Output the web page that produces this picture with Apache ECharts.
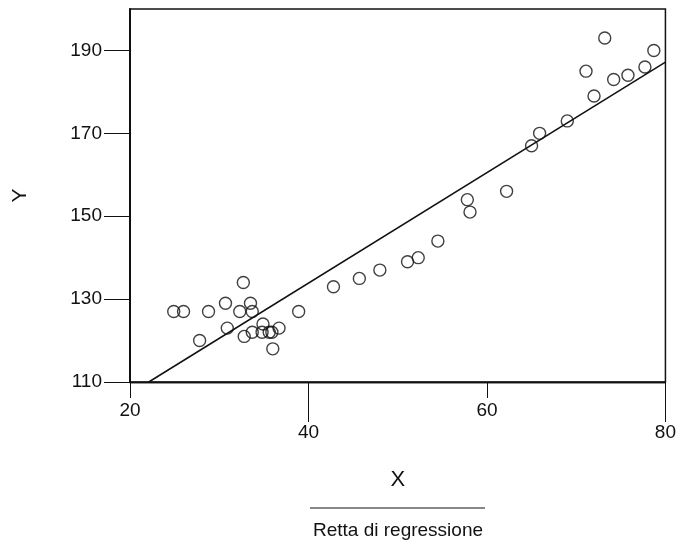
<!DOCTYPE html>
<html>
<head>
<meta charset="utf-8">
<script src="https://cdn.jsdelivr.net/npm/echarts@6/dist/echarts.min.js"></script>
<style>
  html, body { margin: 0; padding: 0; background: #fff; }
  #chart { width: 679px; height: 545px; }
</style>
</head>
<body>
<div id="chart"></div>
<script>
// dati osservati (X, Y)
const xValues = [
  24.9, 26.0, 28.8, 27.8, 30.7, 30.9, 32.7, 32.3, 33.5, 33.7,
  32.8, 33.7, 34.9, 34.8, 35.6, 35.9, 36.7, 36.0, 38.9,
  42.8, 45.7, 48.0, 51.1, 52.3, 54.5, 57.8, 58.1, 62.2,
  65.0, 65.9, 69.0, 72.0, 71.1, 73.2, 74.2, 75.8, 77.7, 78.7
];
const yValues = [
  127, 127, 127, 120, 129, 123, 134, 127, 129, 127,
  121, 122, 124, 122, 122, 122, 123, 118, 127,
  133, 135, 137, 139, 140, 144, 154, 151, 156,
  167, 170, 173, 179, 185, 193, 183, 184, 186, 190
];
// estremi della retta di regressione
const lineX = [22.1, 80];
const lineY = [110, 187.2];

const yTicks = [110, 130, 150, 170, 190];
const xTicksShort = [20, 60];
const xTicksLong = [40, 80];

const font = "'Liberation Sans', Arial, sans-serif";
const ink = "#111";

const chart = echarts.init(document.getElementById("chart"));

const xBase = {
  type: "value",
  min: 20,
  max: 80,
  position: "bottom",
  splitLine: { show: false },
  axisLine: { lineStyle: { color: ink, width: 1.3 } },
};

chart.setOption({
  animation: false,
  grid: {
    left: 130,
    right: 13,
    top: 9,
    bottom: 163,
    show: true,
    borderColor: ink,
    borderWidth: 1.5,
  },
  xAxis: [
    {
      ...xBase,
      name: "X",
      nameLocation: "middle",
      nameGap: 87,
      nameTextStyle: { fontFamily: font, fontSize: 22, color: ink },
      axisTick: { length: 16, customValues: xTicksShort, lineStyle: { color: ink } },
      axisLabel: { margin: 19, customValues: xTicksShort, fontFamily: font, fontSize: 19, color: ink },
    },
    {
      ...xBase,
      axisTick: { length: 40, customValues: xTicksLong, lineStyle: { color: ink } },
      axisLabel: { margin: 41, customValues: xTicksLong, fontFamily: font, fontSize: 19, color: ink },
    },
  ],
  yAxis: {
    type: "value",
    min: 110,
    max: 200,
    name: "Y",
    nameLocation: "middle",
    nameRotate: 90,
    nameGap: 99,
    nameTextStyle: { fontFamily: font, fontSize: 21, color: ink },
    splitLine: { show: false },
    axisLine: { show: true, lineStyle: { color: ink, width: 2 } },
    axisTick: { length: 26, customValues: yTicks, lineStyle: { color: ink } },
    axisLabel: { margin: 28, customValues: yTicks, fontFamily: font, fontSize: 19, color: ink },
  },
  graphic: [
    {
      type: "line",
      shape: { x1: 310, y1: 508, x2: 485, y2: 508 },
      style: { stroke: ink, lineWidth: 1.2 },
    },
    {
      type: "text",
      x: 398,
      y: 531,
      style: {
        text: "Retta di regressione",
        fontFamily: font,
        fontSize: 19,
        fill: ink,
        align: "center",
        verticalAlign: "middle",
      },
    },
  ],
  series: [
    {
      type: "scatter",
      xAxisIndex: 0,
      symbol: "circle",
      symbolSize: 12,
      itemStyle: { color: "rgba(255,255,255,0)", borderColor: ink, borderWidth: 1.4 },
      data: xValues.map((x, i) => [x, yValues[i]]),
    },
    {
      type: "line",
      xAxisIndex: 0,
      symbol: "none",
      lineStyle: { color: ink, width: 1.5 },
      data: lineX.map((x, i) => [x, lineY[i]]),
    },
  ],
});
</script>
</body>
</html>
